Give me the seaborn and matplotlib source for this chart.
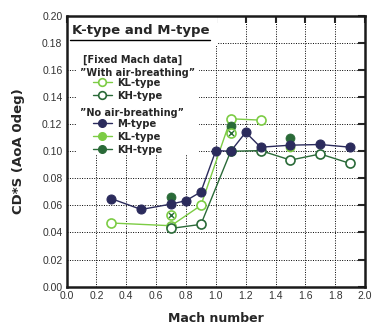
import matplotlib
matplotlib.use("Agg")
import matplotlib.pyplot as plt
import seaborn as sns
import pandas as pd
from matplotlib.lines import Line2D
from matplotlib.patches import Rectangle

# ---- data ----
m_mach = [0.3, 0.5, 0.7, 0.8, 0.9, 1.0, 1.1, 1.2, 1.3, 1.5, 1.7, 1.9]
m_cds = [0.065, 0.057, 0.061, 0.0635, 0.070, 0.1005, 0.100, 0.114, 0.103, 0.1045, 0.105, 0.103]

kl_air_mach = [0.3, 0.7, 0.9, 1.1, 1.3]
kl_air_cds = [0.047, 0.045, 0.060, 0.124, 0.123]

kh_air_mach = [0.7, 0.9, 1.1, 1.3, 1.5, 1.7, 1.9]
kh_air_cds = [0.043, 0.046, 0.100, 0.1005, 0.0935, 0.098, 0.091]

kl_noair_mach = [1.5]
kl_noair_cds = [0.1035]

kh_noair_mach = [0.7, 1.1, 1.5]
kh_noair_cds = [0.0665, 0.119, 0.110]

cross_mach = [0.7, 1.1]
cross_cds = [0.053, 0.1135]

x_ticks = [0.0, 0.2, 0.4, 0.6, 0.8, 1.0, 1.2, 1.4, 1.6, 1.8, 2.0]
y_ticks = [0.00, 0.02, 0.04, 0.06, 0.08, 0.10, 0.12, 0.14, 0.16, 0.18, 0.20]

NAVY = "#2b2b5c"
LGREEN = "#7ccc44"
DGREEN = "#2a6a38"

sns.set_theme(style="white")
plt.rcParams["font.family"] = ["DejaVu Sans"]

fig = plt.figure(figsize=(3.76, 3.31), dpi=100)
ax = fig.add_axes([0.177, 0.134, 0.794, 0.818])

ms = 6.5
lw = 1.0

df_kl = pd.DataFrame({"x": kl_air_mach, "y": kl_air_cds})
df_kh = pd.DataFrame({"x": kh_air_mach, "y": kh_air_cds})
df_m = pd.DataFrame({"x": m_mach, "y": m_cds})

sns.lineplot(data=df_kl, x="x", y="y", ax=ax, color=LGREEN, lw=lw, marker="o",
             markersize=ms, markerfacecolor="white", markeredgecolor=LGREEN,
             markeredgewidth=1.2, zorder=3)
sns.lineplot(data=df_kh, x="x", y="y", ax=ax, color=DGREEN, lw=lw, marker="o",
             markersize=ms, markerfacecolor="white", markeredgecolor=DGREEN,
             markeredgewidth=1.2, zorder=4)
sns.scatterplot(x=kl_noair_mach, y=kl_noair_cds, ax=ax, color=LGREEN, s=ms**2,
                edgecolor=LGREEN, zorder=4)
sns.scatterplot(x=kh_noair_mach, y=kh_noair_cds, ax=ax, color=DGREEN, s=ms**2,
                edgecolor=DGREEN, zorder=4)
sns.scatterplot(x=cross_mach, y=cross_cds, ax=ax, color="white", s=ms**2,
                edgecolor=LGREEN, linewidth=1.2, zorder=5)
sns.scatterplot(x=cross_mach, y=cross_cds, ax=ax, color=DGREEN, s=(ms * 0.55)**2,
                marker="x", linewidth=1.0, zorder=6)
sns.lineplot(data=df_m, x="x", y="y", ax=ax, color=NAVY, lw=lw, marker="o",
             markersize=ms, markerfacecolor=NAVY, markeredgecolor=NAVY, zorder=6)

ax.set_xlim(0, 2.0)
ax.set_ylim(0, 0.20)
ax.set_xticks(x_ticks)
ax.set_yticks(y_ticks)
ax.set_xticklabels([f"{v:.1f}" for v in x_ticks], family="Liberation Sans",
                   fontsize=7.5, color="#333333")
ax.set_yticklabels([f"{v:.2f}" for v in y_ticks], family="Liberation Sans",
                   fontsize=7.5, color="#333333")
ax.grid(True, color="black", linestyle=(0, (1, 1.5)), linewidth=0.7, zorder=0)
ax.set_axisbelow(True)
ax.tick_params(direction="in", length=5, width=1.5, top=True, right=True,
               labeltop=False, labelright=False, pad=3)
for s in ax.spines.values():
    s.set_linewidth(1.8)
    s.set_color("#1a1a1a")

ax.set_xlabel("Mach number", fontsize=9, fontweight="bold", labelpad=8)
ax.set_ylabel("CD*S (AoA 0deg)", fontsize=9.5, fontweight="bold", labelpad=12)

# white boxes hiding the grid behind title and legend
ax.add_patch(Rectangle((0.004, 0.89), 0.50, 0.105, transform=ax.transAxes,
                       facecolor="white", edgecolor="none", zorder=1))
ax.add_patch(Rectangle((0.03, 0.49), 0.415, 0.40, transform=ax.transAxes,
                       facecolor="white", edgecolor="none", zorder=1))

ax.text(0.018, 0.947, "K-type and M-type", transform=ax.transAxes,
        fontsize=9.5, fontweight="bold", ha="left", va="center", zorder=7)
ax.add_line(Line2D([0.012, 0.48], [0.912, 0.912], transform=ax.transAxes,
                   color="black", lw=1.0, zorder=7))

ax.text(0.055, 0.838, "[Fixed Mach data]", transform=ax.transAxes,
        fontsize=7, fontweight="bold", ha="left", va="center", zorder=7)
ax.text(0.045, 0.790, "\u201dWith air-breathing\u201d", transform=ax.transAxes,
        fontsize=7, fontweight="bold", ha="left", va="center", zorder=7)
ax.text(0.045, 0.642, "\u201dNo air-breathing\u201d", transform=ax.transAxes,
        fontsize=7, fontweight="bold", ha="left", va="center", zorder=7)

h1 = [Line2D([], [], color=LGREEN, lw=lw, marker="o", markersize=5.5,
             markerfacecolor="white", markeredgecolor=LGREEN, markeredgewidth=1.2),
      Line2D([], [], color=DGREEN, lw=lw, marker="o", markersize=5.5,
             markerfacecolor="white", markeredgecolor=DGREEN, markeredgewidth=1.2)]
h2 = [Line2D([], [], color=NAVY, lw=lw, marker="o", markersize=5.5,
             markerfacecolor=NAVY, markeredgecolor=NAVY),
      Line2D([], [], color=LGREEN, lw=lw, marker="o", markersize=5.5,
             markerfacecolor=LGREEN, markeredgecolor=LGREEN),
      Line2D([], [], color=DGREEN, lw=lw, marker="o", markersize=5.5,
             markerfacecolor=DGREEN, markeredgecolor=DGREEN)]
legkw = dict(frameon=False, loc="upper left", borderpad=0, borderaxespad=0,
             handlelength=1.9, handletextpad=0.55, labelspacing=0.3,
             prop={"weight": "bold", "size": 7.2})
leg1 = ax.legend(h1, ["KL-type", "KH-type"], bbox_to_anchor=(0.088, 0.771), **legkw)
leg1.set_zorder(8)
ax.add_artist(leg1)
leg2 = ax.legend(h2, ["M-type", "KL-type", "KH-type"], bbox_to_anchor=(0.088, 0.620), **legkw)
leg2.set_zorder(8)

fig.savefig("out.png", dpi=100)
